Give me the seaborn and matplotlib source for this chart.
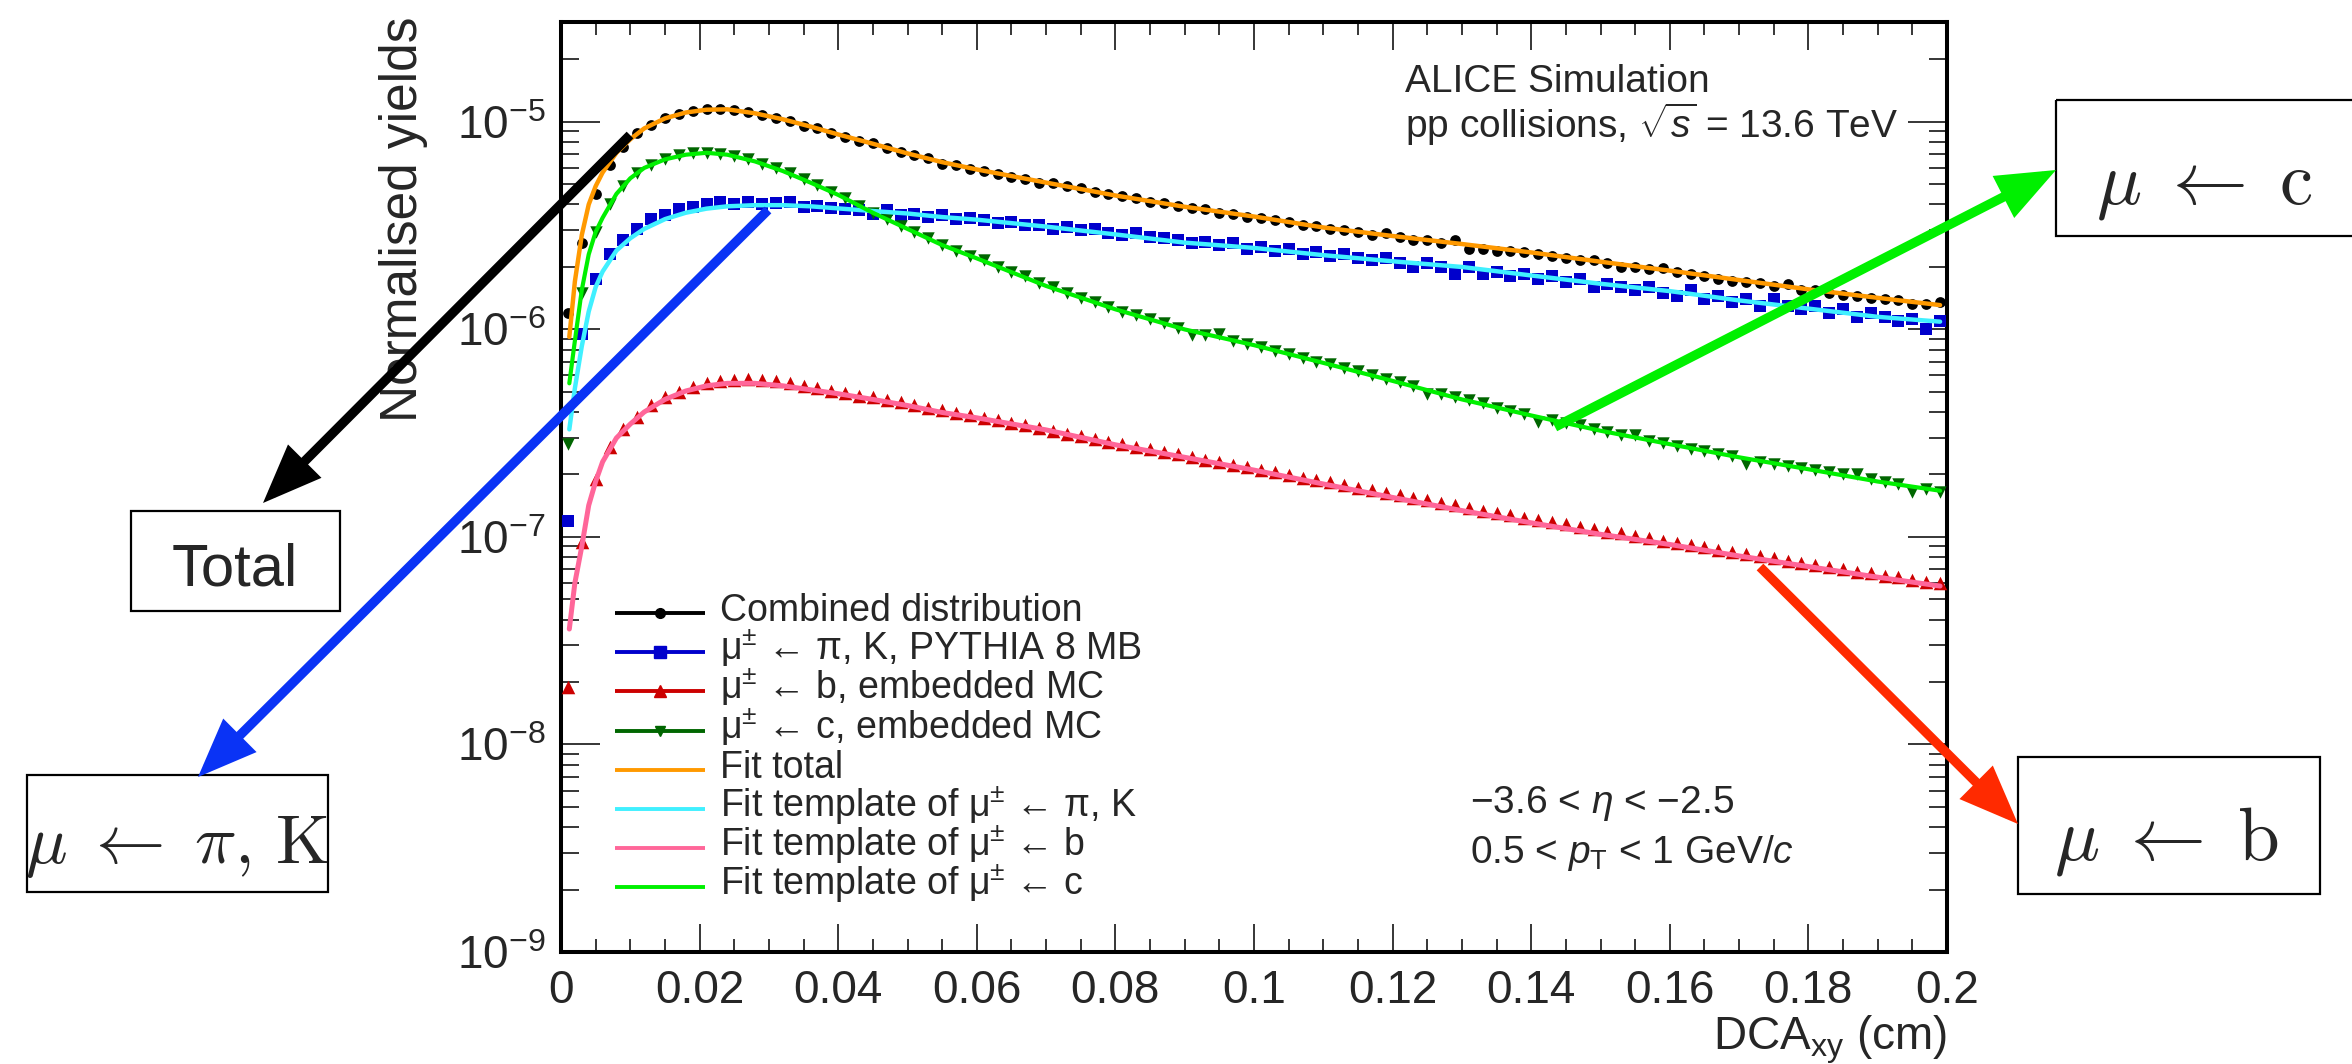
import numpy as np
import pandas as pd
import seaborn as sns
import matplotlib
matplotlib.use("Agg")
import matplotlib.pyplot as plt
from matplotlib.patches import FancyArrowPatch, Rectangle, ArrowStyle
from matplotlib.ticker import MultipleLocator, LogLocator, FuncFormatter, NullFormatter

# DCA_xy bin centres of the histograms (cm)
dca_bins = np.arange(0.001, 0.2, 0.002)

# histogram contents, in units of 1e-6
combined = [1.2, 2.6, 4.5, 6.2, 7.6, 8.8, 9.7, 10.4, 10.9, 11.3,
            11.5, 11.6, 11.4, 11.2, 10.8, 10.5, 10.1, 9.6, 9.3, 8.8,
            8.5, 8.1, 7.9, 7.5, 7.2, 6.9, 6.7, 6.3, 6.2, 5.9,
            5.8, 5.6, 5.45, 5.3, 5.1, 5.05, 4.9, 4.8, 4.6, 4.5,
            4.4, 4.3, 4.1, 4.05, 3.95, 3.85, 3.8, 3.65, 3.6, 3.5,
            3.45, 3.35, 3.3, 3.2, 3.15, 3.05, 3.0, 2.95, 2.85, 2.9,
            2.8, 2.7, 2.7, 2.6, 2.7, 2.45, 2.45, 2.4, 2.4, 2.35,
            2.3, 2.25, 2.2, 2.15, 2.15, 2.1, 2.0, 2.0, 1.95, 1.98,
            1.9, 1.85, 1.8, 1.75, 1.72, 1.7, 1.68, 1.62, 1.66, 1.55,
            1.55, 1.5, 1.47, 1.45, 1.42, 1.4, 1.38, 1.33, 1.33, 1.35]
pik_pythia = [0.12, 0.95, 1.75, 2.3, 2.7, 3.05, 3.4, 3.55, 3.8, 3.9,
              4.0, 4.1, 4.0, 4.1, 4.0, 4.05, 4.1, 3.9, 3.95, 3.85,
              3.8, 3.75, 3.6, 3.75, 3.55, 3.6, 3.5, 3.55, 3.4, 3.45,
              3.35, 3.25, 3.3, 3.2, 3.2, 3.05, 3.1, 3.0, 3.05, 2.9,
              2.85, 2.9, 2.8, 2.75, 2.7, 2.6, 2.65, 2.55, 2.6, 2.45,
              2.5, 2.4, 2.45, 2.3, 2.35, 2.25, 2.3, 2.2, 2.15, 2.2,
              2.1, 2.0, 2.1, 2.0, 1.85, 2.0, 1.85, 1.9, 1.8, 1.85,
              1.75, 1.8, 1.7, 1.75, 1.6, 1.65, 1.6, 1.55, 1.6, 1.5,
              1.45, 1.55, 1.4, 1.45, 1.35, 1.4, 1.3, 1.4, 1.3, 1.25,
              1.3, 1.2, 1.25, 1.15, 1.2, 1.15, 1.1, 1.12, 1.0, 1.1]
beauty_mc = [0.019, 0.095, 0.19, 0.27, 0.33, 0.38, 0.43, 0.47, 0.50, 0.53,
             0.55, 0.565, 0.57, 0.575, 0.57, 0.565, 0.55, 0.535, 0.52, 0.505,
             0.495, 0.48, 0.47, 0.455, 0.445, 0.43, 0.42, 0.41, 0.395, 0.385,
             0.375, 0.365, 0.355, 0.345, 0.335, 0.325, 0.315, 0.305, 0.297, 0.288,
             0.28, 0.272, 0.264, 0.257, 0.25, 0.243, 0.236, 0.229, 0.223, 0.217,
             0.211, 0.205, 0.199, 0.193, 0.188, 0.183, 0.178, 0.173, 0.168, 0.163,
             0.159, 0.154, 0.15, 0.146, 0.142, 0.138, 0.134, 0.131, 0.127, 0.124,
             0.121, 0.118, 0.115, 0.112, 0.109, 0.106, 0.104, 0.101, 0.099, 0.096,
             0.094, 0.091, 0.089, 0.087, 0.085, 0.083, 0.081, 0.079, 0.077, 0.075,
             0.073, 0.072, 0.070, 0.068, 0.067, 0.065, 0.064, 0.062, 0.061, 0.060]
charm_mc = [0.28, 1.5, 2.95, 4.0, 4.9, 5.7, 6.2, 6.6, 6.9, 7.1,
            7.1, 7.0, 6.85, 6.6, 6.3, 6.0, 5.65, 5.3, 4.95, 4.6,
            4.3, 3.95, 3.65, 3.4, 3.15, 2.95, 2.75, 2.55, 2.4, 2.25,
            2.15, 2.0, 1.9, 1.8, 1.68, 1.6, 1.5, 1.42, 1.36, 1.28,
            1.22, 1.17, 1.12, 1.07, 1.02, 0.94, 0.94, 0.95, 0.88, 0.85,
            0.82, 0.79, 0.76, 0.73, 0.70, 0.68, 0.65, 0.63, 0.60, 0.58,
            0.555, 0.535, 0.49, 0.49, 0.47, 0.455, 0.44, 0.42, 0.405, 0.39,
            0.36, 0.365, 0.355, 0.345, 0.33, 0.32, 0.31, 0.31, 0.29, 0.285,
            0.275, 0.265, 0.26, 0.25, 0.245, 0.225, 0.23, 0.225, 0.22, 0.215,
            0.21, 0.205, 0.20, 0.20, 0.19, 0.185, 0.18, 0.165, 0.17, 0.165]

# fit curves, in units of 1e-6
dca_fit = [0.0012, 0.002, 0.003, 0.004, 0.005, 0.006, 0.008, 0.010, 0.012, 0.015,
           0.018, 0.021, 0.024, 0.028, 0.032, 0.036, 0.040, 0.045, 0.050, 0.055,
           0.060, 0.070, 0.080, 0.090, 0.100, 0.110, 0.120, 0.130, 0.140, 0.150,
           0.160, 0.170, 0.180, 0.190, 0.199]
fit_total = [0.92, 1.70, 2.85, 4.0, 4.9, 5.7, 7.1, 8.25, 9.3, 10.4,
             11.1, 11.45, 11.5, 11.0, 10.3, 9.5, 8.7, 7.85, 7.05, 6.4,
             5.9, 5.1, 4.42, 3.9, 3.5, 3.1, 2.82, 2.58, 2.35, 2.12,
             1.92, 1.73, 1.56, 1.42, 1.31]
fit_pik = [0.33, 0.52, 0.83, 1.22, 1.6, 1.9, 2.4, 2.75, 3.05, 3.4,
           3.65, 3.82, 3.92, 3.97, 3.97, 3.92, 3.83, 3.72, 3.62, 3.48,
           3.38, 3.13, 2.87, 2.62, 2.47, 2.28, 2.13, 2.0, 1.82, 1.66,
           1.53, 1.38, 1.26, 1.15, 1.09]
fit_b = [0.036, 0.06, 0.09, 0.142, 0.185, 0.23, 0.30, 0.35, 0.40, 0.46,
         0.505, 0.535, 0.55, 0.55, 0.535, 0.512, 0.49, 0.46, 0.43, 0.398,
         0.375, 0.328, 0.278, 0.242, 0.21, 0.18, 0.155, 0.134, 0.117, 0.103,
         0.092, 0.081, 0.072, 0.064, 0.058]
fit_c = [0.55, 0.88, 1.55, 2.3, 2.95, 3.45, 4.5, 5.35, 6.0, 6.6,
         6.95, 7.1, 6.95, 6.45, 5.8, 5.1, 4.45, 3.65, 3.05, 2.55,
         2.2, 1.62, 1.25, 1.0, 0.84, 0.69, 0.565, 0.46, 0.385, 0.325,
         0.28, 0.242, 0.212, 0.185, 0.167]

legend_labels = ['Combined distribution',
                 'μ$^{\\pm}$ ← π, K, PYTHIA 8 MB',
                 'μ$^{\\pm}$ ← b, embedded MC',
                 'μ$^{\\pm}$ ← c, embedded MC',
                 'Fit total',
                 'Fit template of μ$^{\\pm}$ ← π, K',
                 'Fit template of μ$^{\\pm}$ ← b',
                 'Fit template of μ$^{\\pm}$ ← c']

hist = pd.DataFrame({'dca': dca_bins,
                     'combined': np.array(combined) * 1e-6,
                     'pik': np.array(pik_pythia) * 1e-6,
                     'b': np.array(beauty_mc) * 1e-6,
                     'c': np.array(charm_mc) * 1e-6})
fits = pd.DataFrame({'dca': dca_fit,
                     'total': np.array(fit_total) * 1e-6,
                     'pik': np.array(fit_pik) * 1e-6,
                     'b': np.array(fit_b) * 1e-6,
                     'c': np.array(fit_c) * 1e-6})

sns.set_style("ticks")
plt.rcParams['font.family'] = ['Liberation Sans', 'DejaVu Sans']
plt.rcParams['mathtext.fontset'] = 'custom'
plt.rcParams['mathtext.rm'] = 'Liberation Sans'
plt.rcParams['mathtext.it'] = 'Liberation Sans:italic'
plt.rcParams['mathtext.bf'] = 'Liberation Sans:bold'

fig = plt.figure(figsize=(23.52, 10.64), dpi=100)
ax = fig.add_axes([561 / 2352, 112 / 1064, 1386 / 2352, 930 / 1064])

# histograms
sns.scatterplot(data=hist, x='dca', y='combined', ax=ax, color='black', marker='o', s=60, linewidth=0, zorder=3)
sns.scatterplot(data=hist, x='dca', y='pik', ax=ax, color='#0000cc', marker='s', s=70, linewidth=0, zorder=3)
sns.scatterplot(data=hist, x='dca', y='b', ax=ax, color='#cc0000', marker='^', s=95, linewidth=0, zorder=3)
sns.scatterplot(data=hist, x='dca', y='c', ax=ax, color='#006600', marker='v', s=80, linewidth=0, zorder=3)

# fit curves
sns.lineplot(data=fits, x='dca', y='total', ax=ax, color='#ff9900', lw=3.2, sort=False, estimator=None, zorder=4)
sns.lineplot(data=fits, x='dca', y='pik', ax=ax, color='#40f0ff', lw=3.2, sort=False, estimator=None, zorder=4)
sns.lineplot(data=fits, x='dca', y='b', ax=ax, color='#ff6699', lw=3.6, sort=False, estimator=None, zorder=4)
sns.lineplot(data=fits, x='dca', y='c', ax=ax, color='#00f000', lw=3.0, sort=False, estimator=None, zorder=4)

ax.set_yscale('log')
ax.set_xlim(0, 0.2)
ax.set_ylim(1e-9, 3.03e-5)
ax.xaxis.set_major_locator(MultipleLocator(0.02))
ax.xaxis.set_minor_locator(MultipleLocator(0.005))
ax.xaxis.set_major_formatter(FuncFormatter(lambda v, p: f'{v:g}'))
ax.yaxis.set_major_locator(LogLocator(base=10, numticks=12))
ax.yaxis.set_minor_locator(LogLocator(base=10, subs=np.arange(2, 10), numticks=100))
ax.yaxis.set_minor_formatter(NullFormatter())

ax.tick_params(axis='both', which='both', direction='in', top=True, right=True, color='black')
ax.tick_params(axis='y', which='major', length=28, width=1.1, labelsize=33, pad=11)
ax.tick_params(axis='y', which='minor', length=13, width=1.1)
ax.tick_params(axis='x', which='major', length=20, width=1.1, labelsize=33, pad=12)
ax.tick_params(axis='x', which='minor', length=9.5, width=1.1)
for sp in ax.spines.values():
    sp.set_linewidth(2.9)
    sp.set_color('black')

ax.set_xlabel(r'DCA$_{\mathrm{xy}}$ (cm)', fontsize=33, loc='right')
ax.xaxis.set_label_coords(1.0, -0.066)
ax.set_ylabel('Normalised yields', fontsize=37, loc='top')
ax.yaxis.set_label_coords(-0.096, 1.006)

# overlay in pixel coordinates for texts, legend and slide annotations
ov = fig.add_axes([0, 0, 1, 1], zorder=5)
ov.set_xlim(0, 2352)
ov.set_ylim(1064, 0)
ov.axis('off')
ov.patch.set_visible(False)

ov.text(1405, 92, 'ALICE Simulation', fontsize=28, ha='left', va='baseline')
ov.text(1405, 138, r'pp collisions, $\sqrt{s}$ = 13.6 TeV', fontsize=28, ha='left', va='baseline')
ov.text(1470, 813, '−3.6 < $\\eta$ < −2.5', fontsize=28, ha='left', va='baseline')
ov.text(1470, 863, '0.5 < $p_{\\mathrm{T}}$ < 1 GeV/$c$', fontsize=28, ha='left', va='baseline')

leg_styles = [('black', 'o', 7), ('#0000cc', 's', 8), ('#cc0000', '^', 8), ('#006600', 'v', 7),
              ('#ff9900', None, 0), ('#40f0ff', None, 0), ('#ff6699', None, 0), ('#00f000', None, 0)]
for i, (lab, (col, mk, ms)) in enumerate(zip(legend_labels, leg_styles)):
    y = 613 + 39.2 * i
    ov.plot([615, 660, 705], [y, y, y], color=col, lw=2.8, marker=mk, ms=ms, markevery=[1],
            solid_capstyle='butt')
    ov.text(720, y + 8, lab, fontsize=27, ha='left', va='baseline')

# slide annotations: boxes and arrows
boxes = [((131, 511), 209, 100), ((27, 775), 301, 117), ((2056, 100), 300, 136), ((2018, 757), 302, 137)]
for (x0, y0), w, h in boxes:
    ov.add_patch(Rectangle((x0, y0), w, h, fill=False, lw=1.6, edgecolor='black'))
ov.text(235, 585, 'Total', fontsize=43, ha='center', va='baseline')
ov.text(177, 863, r'$\mu \;\leftarrow\; \pi,\, \mathrm{K}$', fontsize=50, ha='center', va='baseline',
        math_fontfamily='cm')
ov.text(2204, 203, r'$\mu \;\leftarrow\; \mathrm{c}$', fontsize=54, ha='center', va='baseline',
        math_fontfamily='cm')
ov.text(2166, 860, r'$\mu \;\leftarrow\; \mathrm{b}$', fontsize=54, ha='center', va='baseline',
        math_fontfamily='cm')

arrows = [((630, 135), (263, 503), 'black'),
          ((768, 210), (198, 777), '#0a33f5'),
          ((1555, 427), (2056, 170), '#00f000'),
          ((1760, 567), (2018, 824), '#ff2a00')]
for start, end, col in arrows:
    ov.add_patch(FancyArrowPatch(start, end, arrowstyle=ArrowStyle('-|>', head_length=30, head_width=12),
                                 mutation_scale=1, lw=6.8, color=col, shrinkA=0, shrinkB=0,
                                 joinstyle='miter', capstyle='butt'))

fig.savefig('out.png', dpi=100)
